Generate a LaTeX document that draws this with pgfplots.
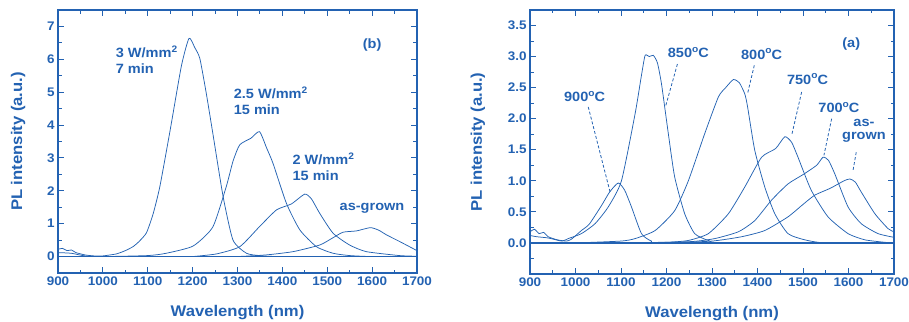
\documentclass[border=0pt]{standalone}
\usepackage{pgfplots}
\pgfplotsset{compat=1.18}
\usepackage{fontspec}
\setmainfont{Liberation Sans}[FakeStretch=1.08]
\definecolor{pb}{RGB}{35,98,178}
\tikzset{lab/.style={font=\fontsize{13.5}{15}\selectfont\bfseries, text=pb, align=left},
  cv/.style={pb, solid, line width=0.75pt, smooth, tension=0.35, mark=none}}
\pgfplotsset{
  myaxis/.style={
    scale only axis,
    axis line style={pb, line width=1.3pt},
    every tick/.style={pb, line width=1pt},
    major tick length=6bp, minor tick length=3.5bp,
    tick align=inside,
    xmin=900, xmax=1700,
    xtick={900,1000,...,1700}, minor xtick={950,1050,...,1650},
    /pgf/number format/assume math mode=true,
    /pgf/number format/1000 sep={},
    tick label style={font=\fontsize{12.5}{14}\selectfont\bfseries, text=pb},
    xlabel={Wavelength (nm)},
    ylabel={PL intensity (a.u.)},
    every axis x label/.style={at={(axis description cs:0.5,0)}, yshift=-40bp, anchor=center, font=\fontsize{15.5}{17}\selectfont\bfseries, text=pb},
    clip=true,
  },
}
\begin{document}
\begin{tikzpicture}
% ---------------- left panel (b)
\begin{axis}[myaxis, at={(58bp,49bp)}, anchor=south west, width=359bp, height=263bp,
  ymin=-0.5, ymax=7.5, ytick={0,1,...,7}, minor ytick={-0.5,0.5,...,7.5},
  every axis y label/.style={at={(axis description cs:-0.111,0.5)}, rotate=90, anchor=center, font=\fontsize{15.5}{17}\selectfont\bfseries, text=pb}]
\addplot[pb, line width=1.6pt, mark=none] coordinates {(900,0)(1700,0)};
\addplot[cv] coordinates {(900,0.22)(910,0.25)(920,0.18)(930,0.2)(940,0.12)(960,0.05)(980,0.02)(1000,0.02)(1030,0.08)(1050,0.18)(1067,0.3)(1080,0.45)(1097,0.72)(1112,1.3)(1127,2.13)(1150,3.85)(1175,5.8)(1192,6.64)(1205,6.35)(1216,6.03)(1230,5.0)(1245,3.75)(1268,1.82)(1290,0.5)(1320,0.1)(1350,0.03)(1400,0.0)(1700,0)};
\addplot[cv] coordinates {(900,0.12)(930,0.1)(960,0.02)(1000,0)(1100,0.03)(1141,0.1)(1201,0.32)(1245,0.9)(1275,2.13)(1290,2.9)(1305,3.4)(1330,3.6)(1349,3.8)(1365,3.3)(1379,2.84)(1409,1.62)(1439,0.81)(1476,0.3)(1513,0.1)(1550,0.03)(1600,0)(1700,0)};
\addplot[cv] coordinates {(1200,0)(1253,0.08)(1305,0.3)(1349,0.91)(1387,1.42)(1420,1.6)(1450,1.9)(1465,1.75)(1483,1.32)(1513,0.71)(1550,0.35)(1587,0.15)(1661,0.03)(1700,0.01)};
\addplot[cv] coordinates {(1300,0)(1364,0.05)(1424,0.15)(1483,0.35)(1510,0.55)(1535,0.74)(1565,0.78)(1596,0.88)(1615,0.8)(1632,0.66)(1661,0.46)(1700,0.18)};
\node[lab, anchor=west] at (axis cs:1021,6.0) {3 W/mm$^{\mathbf 2}$\\[1pt]7 min};
\node[lab, anchor=west] at (axis cs:1284,4.75) {2.5 W/mm$^{\mathbf 2}$\\[1pt]15 min};
\node[lab, anchor=west] at (axis cs:1415,2.74) {2 W/mm$^{\mathbf 2}$\\[1pt]15 min};
\node[lab, anchor=west] at (axis cs:1520,1.47) {as-grown};
\node[lab] at (axis cs:1600,6.43) {(b)};
\end{axis}
% ---------------- right panel (a)
\begin{axis}[myaxis, at={(530bp,48bp)}, anchor=south west, width=364bp, height=264bp,
  ymin=-0.5, ymax=3.75, ytick={0,0.5,...,3.5}, minor ytick={-0.25,0.25,...,3.75},
  yticklabel style={/pgf/number format/.cd, fixed, fixed zerofill, precision=1},
  every axis y label/.style={at={(axis description cs:-0.143,0.5)}, rotate=90, anchor=center, font=\fontsize{15.5}{17}\selectfont\bfseries, text=pb}]
\addplot[pb, line width=1.6pt, mark=none] coordinates {(900,0)(1700,0)};
\addplot[cv] coordinates {(900,0.18)(910,0.22)(920,0.15)(930,0.17)(940,0.1)(960,0.05)(980,0.03)(991,0.06)(1013,0.2)(1030,0.3)(1057,0.6)(1075,0.82)(1094,0.965)(1108,0.85)(1123,0.58)(1145,0.15)(1167,0.03)(1200,0)(1700,0)};
\addplot[cv] coordinates {(900,0.12)(915,0.1)(940,0.08)(970,0.03)(984,0.07)(1013,0.15)(1043,0.31)(1072,0.58)(1101,1.0)(1131,2.08)(1145,2.7)(1153,3.02)(1162,3.0)(1171,3.02)(1180,2.9)(1189,2.56)(1204,1.76)(1218,1.06)(1240,0.47)(1262,0.15)(1292,0.04)(1330,0)(1700,0)};
\addplot[cv] coordinates {(1000,0)(1100,0.03)(1131,0.07)(1175,0.2)(1218,0.52)(1248,1.0)(1284,1.76)(1314,2.35)(1330,2.5)(1347,2.63)(1360,2.58)(1372,2.4)(1378,2.2)(1394,1.49)(1416,0.9)(1438,0.47)(1467,0.15)(1504,0.05)(1550,0)(1700,0)};
\addplot[cv] coordinates {(1100,0)(1200,0.01)(1248,0.04)(1292,0.15)(1336,0.47)(1372,0.9)(1409,1.38)(1440,1.52)(1460,1.71)(1475,1.62)(1489,1.38)(1518,0.85)(1555,0.42)(1599,0.15)(1636,0.05)(1680,0.01)(1700,0)};
\addplot[cv] coordinates {(1100,0)(1250,0.02)(1306,0.07)(1358,0.18)(1394,0.36)(1431,0.69)(1467,0.95)(1500,1.1)(1530,1.25)(1544,1.38)(1556,1.33)(1570,1.11)(1599,0.58)(1628,0.31)(1665,0.15)(1700,0.09)};
\addplot[cv] coordinates {(1200,0)(1300,0.03)(1365,0.1)(1416,0.2)(1467,0.42)(1500,0.62)(1526,0.77)(1560,0.88)(1590,1.0)(1603,1.03)(1615,0.98)(1628,0.82)(1658,0.47)(1687,0.23)(1700,0.18)};
\draw[pb, densely dashed, line width=0.8pt] (axis cs:1028,2.19) -- (axis cs:1076,0.82);
\draw[pb, densely dashed, line width=0.8pt] (axis cs:1224,2.88) -- (axis cs:1198,2.2);
\draw[pb, densely dashed, line width=0.8pt] (axis cs:1393,2.86) -- (axis cs:1378,2.4);
\draw[pb, densely dashed, line width=0.8pt] (axis cs:1497,2.43) -- (axis cs:1475,1.73);
\draw[pb, densely dashed, line width=0.8pt] (axis cs:1563,2.0) -- (axis cs:1546,1.41);
\draw[pb, densely dashed, line width=0.8pt] (axis cs:1617,1.46) -- (axis cs:1610,1.17);
\node[lab] at (axis cs:1020,2.36) {900$^{\mathbf o}$C};
\node[lab] at (axis cs:1248,3.06) {850$^{\mathbf o}$C};
\node[lab] at (axis cs:1409,3.04) {800$^{\mathbf o}$C};
\node[lab] at (axis cs:1510,2.64) {750$^{\mathbf o}$C};
\node[lab] at (axis cs:1579,2.18) {700$^{\mathbf o}$C};
\node[lab, align=center] at (axis cs:1634,1.8) {as-\\[-2pt]grown};
\node[lab] at (axis cs:1606,3.2) {(a)};
\end{axis}
\pgfresetboundingbox
\path[use as bounding box] (0,0) rectangle (909bp,322bp);
\end{tikzpicture}
\end{document}
